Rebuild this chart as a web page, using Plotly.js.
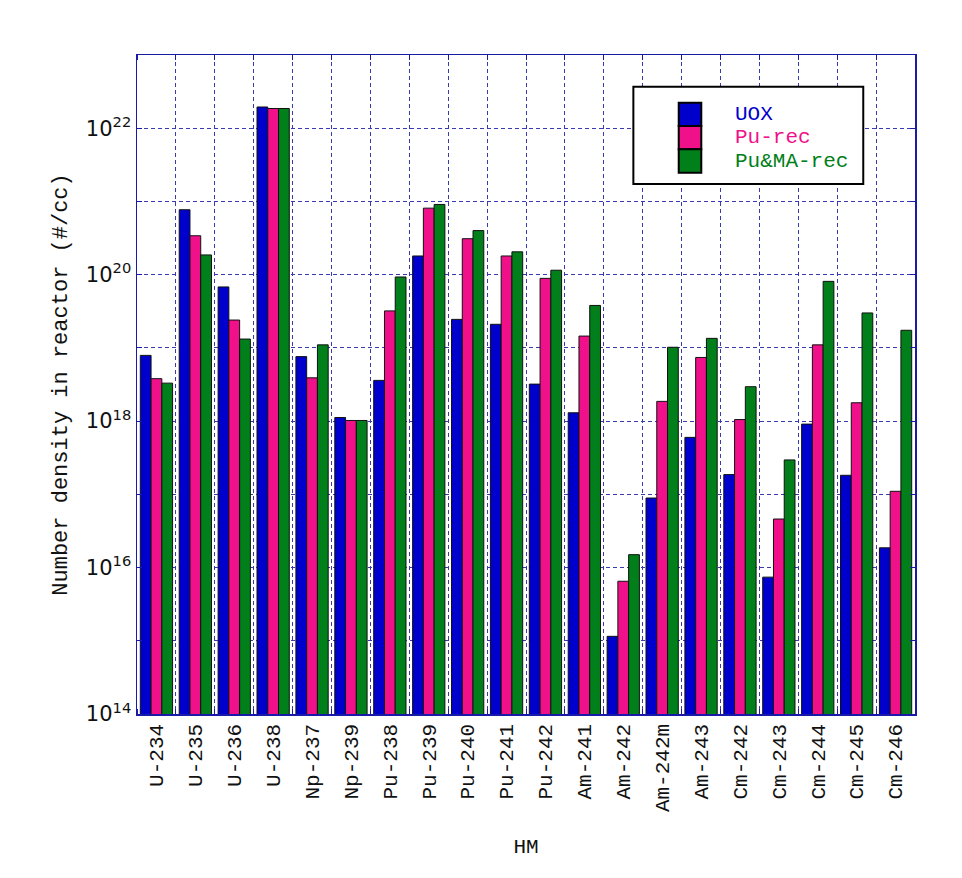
<!DOCTYPE html>
<html>
<head>
<meta charset="utf-8">
<script src="https://cdn.plot.ly/plotly-3.0.1.min.js"></script>
<style>
  html, body { margin: 0; padding: 0; background: #ffffff; }
  #chart { width: 962px; height: 878px; }
</style>
</head>
<body>
<div id="chart"></div>
<script>
// Heavy-metal nuclides
const nuclides = ['U-234', 'U-235', 'U-236', 'U-238', 'Np-237', 'Np-239', 'Pu-238', 'Pu-239',
  'Pu-240', 'Pu-241', 'Pu-242', 'Am-241', 'Am-242', 'Am-242m', 'Am-243', 'Cm-242', 'Cm-243',
  'Cm-244', 'Cm-245', 'Cm-246'];

// Number density in reactor (#/cc) per fuel scenario
const uox = [7.9e18, 7.7e20, 6.8e19, 1.95e22, 7.6e18, 1.12e18, 3.6e18, 1.8e20,
  2.45e19, 2.1e19, 3.2e18, 1.3e18, 1.15e15, 8.9e16, 6.0e17, 1.86e17, 7.4e15,
  9.1e17, 1.82e17, 1.86e16];
const puRec = [3.8e18, 3.4e20, 2.4e19, 1.86e22, 3.9e18, 1.02e18, 3.2e19, 8.1e20,
  3.1e20, 1.8e20, 8.9e19, 1.45e19, 6.5e15, 1.86e18, 7.4e18, 1.05e18, 4.6e16,
  1.1e19, 1.78e18, 1.1e17];
const puMaRec = [3.3e18, 1.86e20, 1.32e19, 1.86e22, 1.1e19, 1.02e18, 9.3e19, 9.1e20,
  4.0e20, 2.05e20, 1.15e20, 3.8e19, 1.5e16, 1.02e19, 1.35e19, 2.95e18, 2.95e17,
  8.1e19, 3.0e19, 1.74e19];

const seriesNames = ['UOX', 'Pu-rec', 'Pu&MA-rec'];
const seriesValues = [uox, puRec, puMaRec];
const seriesColors = ['#0000cc', '#f0108a', '#007f1a'];

// Labelled decades on the log axis (every decade gets a minor tick + grid line)
const labelExps = [14, 16, 18, 20, 22];

const mono = 'Liberation Mono, Courier New, monospace';
const sans = 'DejaVu Sans, Verdana, sans-serif';
const frameColor = '#1a1aa8';
const gridColor = '#3a3ab0';
const textColor = '#111111';

const xPos = nuclides.map((_, i) => i + 0.5);

const traces = seriesNames.map((name, k) => ({
  type: 'bar',
  name: name,
  x: xPos,
  y: seriesValues[k],
  marker: { color: seriesColors[k], line: { color: '#111111', width: 1 } },
  showlegend: false,
  hoverinfo: 'skip'
}));

// Hand-placed legend box (paper coordinates)
const legBox = { x0: 0.638, x1: 0.9335, y0: 0.8042, y1: 0.9519 };
const patchX0 = 0.6963, patchX1 = 0.7253;
const patchTop = 0.9276, patchH = 0.0354;
const textX = 0.7665;

const shapes = [{
  type: 'rect', xref: 'paper', yref: 'paper', layer: 'above',
  x0: legBox.x0, x1: legBox.x1, y0: legBox.y0, y1: legBox.y1,
  fillcolor: '#ffffff', line: { color: '#000000', width: 2 }
}];
const annotations = [];
seriesNames.forEach((name, k) => {
  const top = patchTop - k * patchH;
  shapes.push({
    type: 'rect', xref: 'paper', yref: 'paper', layer: 'above',
    x0: patchX0, x1: patchX1, y0: top - patchH, y1: top,
    fillcolor: seriesColors[k], line: { color: '#000000', width: 2 }
  });
  annotations.push({
    xref: 'paper', yref: 'paper', x: textX, y: top - patchH / 2,
    xanchor: 'left', yanchor: 'middle', showarrow: false,
    text: name, font: { family: mono, size: 21, color: seriesColors[k] }
  });
});

const layout = {
  width: 962,
  height: 878,
  margin: { l: 137, r: 47, t: 55, b: 164 },
  paper_bgcolor: '#ffffff',
  plot_bgcolor: '#ffffff',
  barmode: 'group',
  bargap: 0.17,
  bargroupgap: 0,
  xaxis: {
    range: [0, nuclides.length],
    tickmode: 'array',
    tickvals: xPos,
    ticktext: nuclides,
    tickangle: -90,
    ticks: '',
    showgrid: false,
    zeroline: false,
    showline: true,
    linecolor: frameColor,
    linewidth: 1.5,
    mirror: 'ticks',
    tickfont: { family: mono, size: 21, color: textColor },
    minor: {
      tick0: 0, dtick: 1, ticks: 'inside', ticklen: 5, tickcolor: frameColor,
      showgrid: true, gridcolor: gridColor, gridwidth: 1, griddash: '4px,3px'
    },
    title: { text: 'HM', font: { family: mono, size: 21, color: textColor }, standoff: 27 }
  },
  yaxis: {
    type: 'log',
    range: [14, 23],
    tickmode: 'array',
    tickvals: labelExps.map(e => Math.pow(10, e)),
    ticktext: labelExps.map(e => '10<sup>' + e + '</sup>'),
    ticks: 'inside',
    ticklen: 5,
    tickcolor: frameColor,
    showgrid: true,
    gridcolor: gridColor,
    gridwidth: 1,
    griddash: '4px,3px',
    zeroline: false,
    showline: true,
    linecolor: frameColor,
    linewidth: 1.5,
    mirror: 'ticks',
    tickfont: { family: sans, size: 21, color: textColor },
    minor: {
      tick0: 0, dtick: 1, ticks: 'inside', ticklen: 5, tickcolor: frameColor,
      showgrid: true, gridcolor: gridColor, gridwidth: 1, griddash: '4px,3px'
    },
    title: { text: 'Number density in reactor (#/cc)', font: { family: mono, size: 22, color: textColor }, standoff: 12 }
  },
  shapes: shapes,
  annotations: annotations
};

Plotly.newPlot('chart', traces, layout, { staticPlot: true, displayModeBar: false });
</script>
</body>
</html>
